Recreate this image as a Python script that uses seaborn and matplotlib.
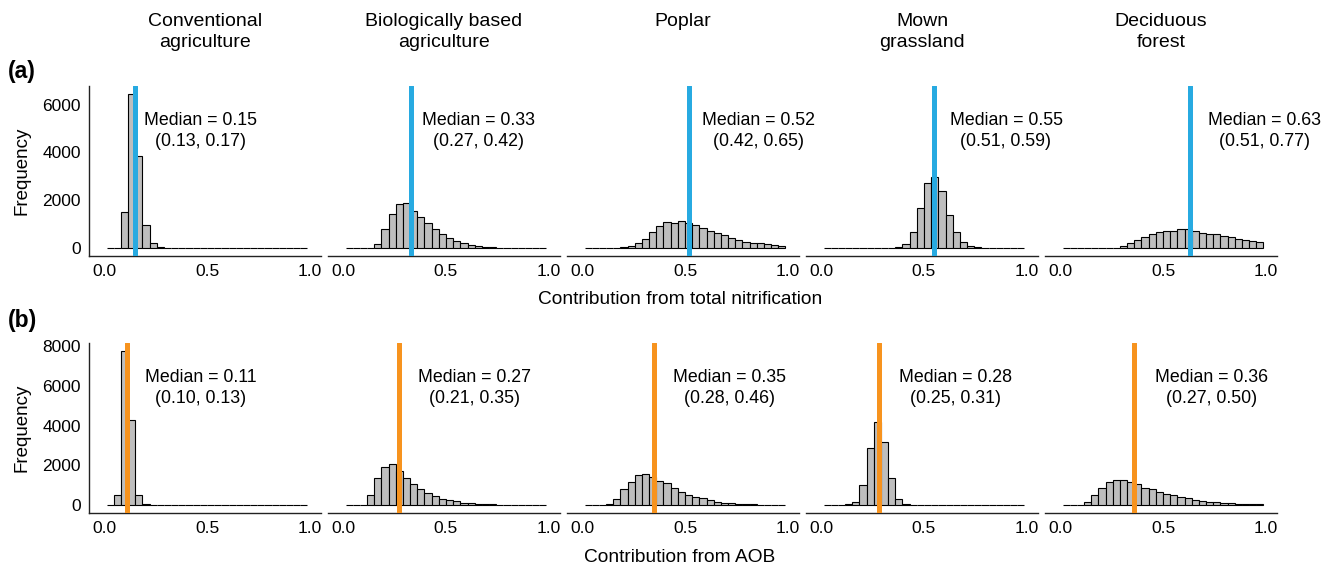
# Libraries
# ===================================================
import numpy as np
import pandas as pd
import seaborn as sns
import matplotlib.pyplot as plt
from matplotlib.transforms import blended_transform_factory

# Data
# ===================================================
sites = ['Conventional\nagriculture', 'Biologically based\nagriculture', 'Poplar',
         'Mown\ngrassland', 'Deciduous\nforest']

# Histogram bins (28 bins from 0.01 to 0.99)
bin_start = 0.01
bin_width = 0.035
n_bins = 28

# (a) Contribution from total nitrification - counts per bin
a_conventional = [0, 0, 1500, 6450, 3850, 980, 200, 40, 10, 5, 0, 0, 0, 0,
                  0, 0, 0, 0, 0, 0, 0, 0, 0, 0, 0, 0, 0, 0]
a_biological = [0, 0, 0, 20, 180, 790, 1430, 1850, 1880, 1560, 1300, 1050, 800, 600,
                430, 300, 200, 130, 85, 55, 35, 20, 12, 8, 5, 3, 2, 1]
a_poplar = [0, 0, 5, 10, 25, 45, 100, 210, 390, 690, 940, 1110, 1070, 1150,
            1040, 970, 830, 740, 650, 540, 445, 350, 280, 220, 210, 180, 125, 95]
a_mown = [0, 0, 0, 0, 0, 0, 0, 0, 0, 15, 70, 170, 680, 1690,
          2740, 2970, 2390, 1375, 695, 250, 95, 40, 10, 0, 0, 0, 0, 0]
a_deciduous = [0, 0, 0, 0, 5, 10, 15, 25, 95, 210, 350, 485, 600, 695,
               720, 735, 790, 805, 735, 640, 610, 610, 530, 460, 405, 360, 320, 250]

# (b) Contribution from AOB - counts per bin
b_conventional = [0, 520, 7770, 4300, 520, 60, 10, 0, 0, 0, 0, 0, 0, 0,
                  0, 0, 0, 0, 0, 0, 0, 0, 0, 0, 0, 0, 0, 0]
b_biological = [0, 0, 30, 500, 1350, 1920, 2080, 1720, 1380, 1050, 830, 600, 470, 330,
                270, 200, 130, 100, 70, 50, 40, 30, 20, 15, 10, 8, 5, 3]
b_poplar = [0, 5, 20, 60, 300, 800, 1180, 1530, 1550, 1430, 1220, 1100, 880, 680,
            520, 420, 350, 250, 180, 130, 100, 80, 60, 45, 35, 25, 18, 12]
b_mown = [0, 0, 5, 50, 180, 1020, 2880, 4180, 3170, 1350, 300, 80, 10, 0,
          0, 0, 0, 0, 0, 0, 0, 0, 0, 0, 0, 0, 0, 0]
b_deciduous = [0, 5, 30, 170, 500, 880, 1180, 1250, 1250, 1170, 1050, 880, 800, 680,
               580, 500, 420, 350, 280, 230, 180, 150, 120, 100, 80, 65, 50, 40]

# Medians and intervals
a_median = [0.15, 0.33, 0.52, 0.55, 0.63]
a_low = [0.13, 0.27, 0.42, 0.51, 0.51]
a_high = [0.17, 0.42, 0.65, 0.59, 0.77]
b_median = [0.11, 0.27, 0.35, 0.28, 0.36]
b_low = [0.10, 0.21, 0.28, 0.25, 0.27]
b_high = [0.13, 0.35, 0.46, 0.31, 0.50]

a_counts = [a_conventional, a_biological, a_poplar, a_mown, a_deciduous]
b_counts = [b_conventional, b_biological, b_poplar, b_mown, b_deciduous]

# Label placement (x in data units)
a_text_x = [0.47, 0.66, 0.857, 0.90, 0.993]
b_text_x = [0.47, 0.637, 0.717, 0.655, 0.739]

edges = bin_start + bin_width * np.arange(n_bins + 1)
centers = edges[:-1] + bin_width / 2

# Data Visualization
# ===================================================
sns.set_style('white')
plt.rcParams.update({'font.family': ['Liberation Sans', 'DejaVu Sans'], 'font.size': 11,
                     'text.color': 'black', 'axes.labelcolor': 'black',
                     'xtick.color': 'black', 'ytick.color': 'black'})

W, H = 1333, 570
fig = plt.figure(figsize=(W / 100, H / 100), dpi=100)

lefts = [89, 328, 567, 806, 1045]
pw = 232
rows = [
    dict(counts=a_counts, med=a_median, lo=a_low, hi=a_high, tx=a_text_x,
         color='#27AAE1', top=86, bottom=256, yticks=[0, 2000, 4000, 6000],
         tag='(a)', tag_y=72, xlabel='Contribution from total nitrification', xlabel_y=300),
    dict(counts=b_counts, med=b_median, lo=b_low, hi=b_high, tx=b_text_x,
         color='#F7931E', top=343, bottom=513, yticks=[0, 2000, 4000, 6000, 8000],
         tag='(b)', tag_y=321, xlabel='Contribution from AOB', xlabel_y=557),
]

zero_px = 15.5
px_per_unit = 205
xlim = (-zero_px / px_per_unit, (pw - zero_px) / px_per_unit)

for r, row in enumerate(rows):
    ymax = max(max(c) for c in row['counts'])
    ylim = (-0.05 * ymax, 1.05 * ymax)
    for i in range(5):
        ax = fig.add_axes([lefts[i] / W, 1 - row['bottom'] / H, pw / W,
                           (row['bottom'] - row['top']) / H])
        ax.set_facecolor('none')
        df = pd.DataFrame({'value': centers, 'count': row['counts'][i]})
        sns.histplot(data=df, x='value', weights='count', bins=list(edges), ax=ax,
                     color='#BEBEBE', edgecolor='black', linewidth=0.8, alpha=1)
        ax.axvline(row['med'][i], color=row['color'], linewidth=3.6, zorder=5)
        ax.set_xlim(xlim)
        ax.set_ylim(ylim)
        ax.set_xticks([0, 0.25, 0.5, 0.75, 1.0])
        ax.set_xticklabels(['0.0', '', '0.5', '', '1.0'], fontsize=12.5)
        ax.tick_params(axis='both', length=4, width=0.9, color='#333333', pad=2)
        ax.set_xlabel('')
        ax.set_ylabel('')
        for s in ['top', 'right']:
            ax.spines[s].set_visible(False)
        ax.spines['bottom'].set_linewidth(1.0)
        ax.spines['bottom'].set_color('#222222')
        if i == 0:
            ax.set_yticks(row['yticks'])
            ax.set_yticklabels([str(v) for v in row['yticks']], fontsize=12.5)
            ax.spines['left'].set_linewidth(1.0)
            ax.spines['left'].set_color('#222222')
        else:
            ax.spines['left'].set_visible(False)
            ax.set_yticks([])
        trans = blended_transform_factory(ax.transData, ax.transAxes)
        ax.text(row['tx'][i], 0.735,
                f"Median = {row['med'][i]:.2f}\n({row['lo'][i]:.2f}, {row['hi'][i]:.2f})",
                transform=trans, ha='center', va='center', fontsize=12.8,
                linespacing=1.3, color='black', zorder=6)
        if r == 0:
            fig.text((lefts[i] + pw / 2) / W, 1 - 13 / H, sites[i], ha='center',
                     va='top', fontsize=14, linespacing=1.3)

    # Row tag, y label and x label
    fig.text(8 / W, 1 - row['tag_y'] / H, row['tag'], fontsize=16.5, fontweight='bold',
             ha='left', va='center')
    fig.text(22 / W, 1 - (row['top'] + row['bottom']) / 2 / H, 'Frequency', rotation=90,
             fontsize=13.5, ha='center', va='center')
    fig.text(680 / W, 1 - row['xlabel_y'] / H, row['xlabel'], fontsize=13.8,
             ha='center', va='center')

plt.savefig('out.png', dpi=100)
